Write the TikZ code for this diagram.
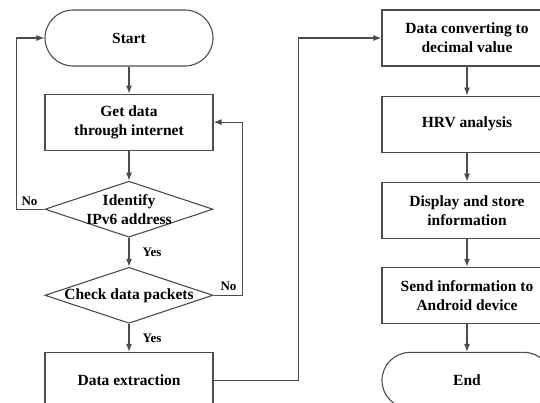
\documentclass[tikz,border=0pt]{standalone}
\usepackage{fontspec}
\setmainfont{Liberation Serif}
\usetikzlibrary{positioning}
\usetikzlibrary {arrows.meta}
\usetikzlibrary{shapes.geometric}
\tikzset{flowbox/.style={rectangle,draw=black!70,line width=1.1pt,fill=white,align=center,
inner sep=2pt,minimum height=56pt, minimum width=168pt,font=\bfseries\fontsize{15.5}{19}\selectfont}}
\tikzset{terminal/.style={flowbox,rounded corners=28pt}}
\tikzset{decision/.style={diamond,draw=black!70,line width=1.1pt,fill=white,
inner sep=0pt,minimum height=56pt, minimum width=168pt}}
\tikzset{decisiontext/.style={align=center,inner sep=0pt,font=\bfseries\fontsize{15.5}{19}\selectfont}}
\tikzset{flowline/.style={draw=black!70,line width=1.1pt,-{Latex[length=8pt,width=6pt]}}}
\tikzset{answer/.style={inner sep=1pt,font=\bfseries\fontsize{13}{15}\selectfont}}

\begin{document}
\begin{tikzpicture}[node distance=28pt]
        \path[use as bounding box] (0pt,0pt) rectangle (540pt,-402pt);
        \clip (0pt,0pt) rectangle (540pt,-402pt);

        % left column
        \node[terminal] (start) at (129pt,-38pt) {Start};
        \node[flowbox] (getdata) [below=27pt of start] {Get data\\through internet};
        \node[decision] (identify) [below=30pt of getdata] {};
        \node[decisiontext] (identifytext) at (identify) {Identify\\IPv6 address};
        \node[decision] (check) [below=29pt of identify] {};
        \node[decisiontext] (checktext) at (check) {Check data packets};
        \node[flowbox] (extract) [below=28pt of check] {Data extraction};

        % right column
        \node[flowbox, minimum width=170pt] (convert) at (467pt,-38pt) {Data converting to\\decimal value};
        \node[flowbox, minimum width=170pt] (hrv) [below=29pt of convert] {HRV analysis};
        \node[flowbox, minimum width=170pt] (display) [below=29pt of hrv] {Display and store\\information};
        \node[flowbox, minimum width=170pt] (send) [below=28pt of display] {Send information to\\Android device};
        \node[terminal, minimum width=170pt] (end) [below=28pt of send] {End};

        \draw[flowline] (start) -- (getdata);
        \draw[flowline] (getdata) -- (identify);
        \draw[flowline] (identify) -- node[answer, right=12pt] (yesone) {Yes} (check);
        \draw[flowline] (check) -- node[answer, right=12pt] (yestwo) {Yes} (extract);

        \draw[flowline] (identify.west) -- ++(-28pt,0) |- (start.west);
        \node[answer] (noone) at ([xshift=-15pt,yshift=8pt]identify.west) {No};
        \draw[flowline] (check.east) -- ++(29pt,0) |- (getdata.east);
        \node[answer] (notwo) at ([xshift=15pt,yshift=9pt]check.east) {No};

        \draw[flowline] (extract.east) -- ++(85pt,0) |- (convert.west);

        \draw[flowline] (convert) -- (hrv);
        \draw[flowline] (hrv) -- (display);
        \draw[flowline] (display) -- (send);
        \draw[flowline] (send) -- (end);
\end{tikzpicture}
\end{document}
